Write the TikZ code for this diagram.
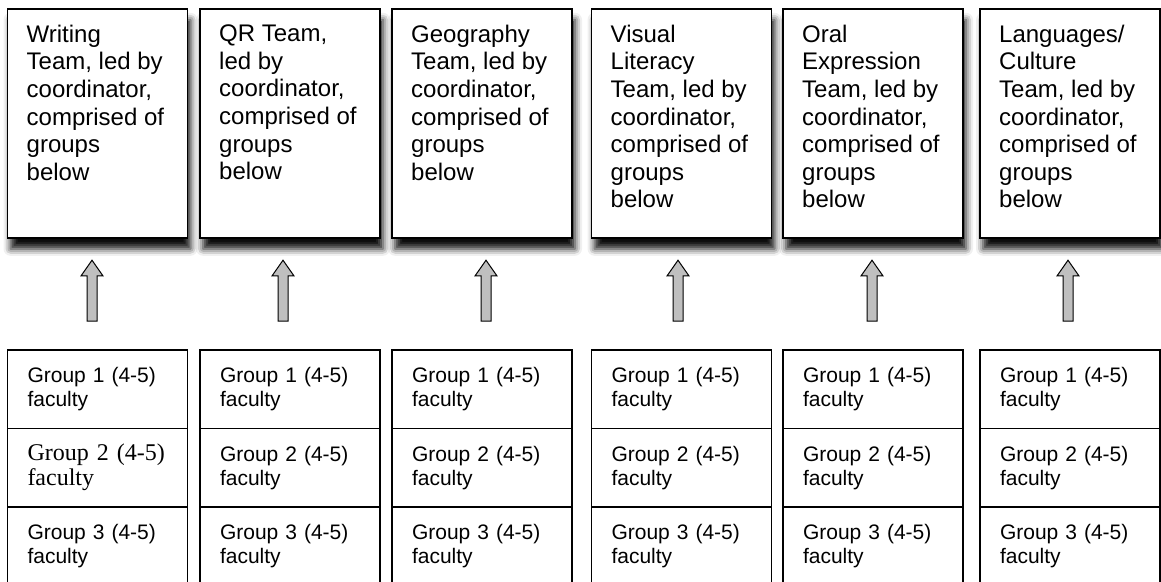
\documentclass[tikz,border=0pt]{standalone}
\usepackage{fontspec}
\setmainfont{Liberation Sans}
\newfontfamily\timesfont{Liberation Serif}
\usepackage{xcolor}
\usepackage{tikz}
\usetikzlibrary{shapes,arrows,arrows.meta,positioning,shadows.blur}

\begin{document}
\begin{tikzpicture}[x=0.5pt, y=-0.5pt,
    team/.style={draw, line width=0.8pt, fill=white, rectangle, anchor=north, minimum width=90pt, minimum height=114.5pt, inner sep=0pt,
      blur shadow={shadow xshift=1.5pt, shadow yshift=-5.5pt, shadow blur radius=3.5pt, shadow opacity=95}},
    teamtxt/.style={align=left, inner sep=0pt, outer sep=0pt, font=\fontsize{12pt}{13.8pt}\selectfont},
    grp/.style={draw, line width=0.6pt, rectangle, outer sep=0pt, minimum width=90pt, minimum height=39.25pt, text width=70pt, align=left, font=\fontsize{10.5pt}{12pt}\selectfont},
    uparrow/.style={draw, line width=0.5pt, fill=gray!50, single arrow, rotate=90, inner sep=2.25pt, minimum height=30.5pt, single arrow head extend=3pt, single arrow tip angle=70}
  ]
    \useasboundingbox (0,0) rectangle (1161,582);
    % teams
    \node[team] (writing) at (97.5,8) {};
    \node[team] (qr) at (290,8) {};
    \node[team] (geo) at (482,8) {};
    \node[team] (visual) at (681.5,8) {};
    \node[team] (oral) at (873,8) {};
    \node[team] (lang) at (1070,8) {};
    \node[teamtxt, below right=8.5pt and 10pt of writing.north west] (writingtxt) {Writing\\Team, led by\\coordinator,\\comprised of\\groups\\below};
    \node[teamtxt, below right=8.5pt and 10pt of qr.north west] (qrtxt) {QR Team,\\led by\\coordinator,\\comprised of\\groups\\below};
    \node[teamtxt, below right=8.5pt and 10pt of geo.north west] (geotxt) {Geography\\Team, led by\\coordinator,\\comprised of\\groups\\below};
    \node[teamtxt, below right=8.5pt and 10pt of visual.north west] (visualtxt) {Visual\\Literacy\\Team, led by\\coordinator,\\comprised of\\groups\\below};
    \node[teamtxt, below right=8.5pt and 10pt of oral.north west] (oraltxt) {Oral\\Expression\\Team, led by\\coordinator,\\comprised of\\groups\\below};
    \node[teamtxt, below right=8.5pt and 10pt of lang.north west] (langtxt) {Languages/\\Culture\\Team, led by\\coordinator,\\comprised of\\groups\\below};
    % groups
    \node[grp, anchor=north] (writing1) at (97.5,350) {Group 1 (4-5)\\faculty};
    \node[grp, below=0pt of writing1, font=\timesfont\fontsize{12pt}{12.5pt}\selectfont] (writing2) {Group 2 (4-5)\\faculty};
    \node[grp, below=0pt of writing2] (writing3) {Group 3 (4-5)\\faculty};
    \node[grp, anchor=north] (qr1) at (290,350) {Group 1 (4-5)\\faculty};
    \node[grp, below=0pt of qr1] (qr2) {Group 2 (4-5)\\faculty};
    \node[grp, below=0pt of qr2] (qr3) {Group 3 (4-5)\\faculty};
    \node[grp, anchor=north] (geo1) at (482,350) {Group 1 (4-5)\\faculty};
    \node[grp, below=0pt of geo1] (geo2) {Group 2 (4-5)\\faculty};
    \node[grp, below=0pt of geo2] (geo3) {Group 3 (4-5)\\faculty};
    \node[grp, anchor=north] (visual1) at (681.5,350) {Group 1 (4-5)\\faculty};
    \node[grp, below=0pt of visual1] (visual2) {Group 2 (4-5)\\faculty};
    \node[grp, below=0pt of visual2] (visual3) {Group 3 (4-5)\\faculty};
    \node[grp, anchor=north] (oral1) at (873,350) {Group 1 (4-5)\\faculty};
    \node[grp, below=0pt of oral1] (oral2) {Group 2 (4-5)\\faculty};
    \node[grp, below=0pt of oral2] (oral3) {Group 3 (4-5)\\faculty};
    \node[grp, anchor=north] (lang1) at (1070,350) {Group 1 (4-5)\\faculty};
    \node[grp, below=0pt of lang1] (lang2) {Group 2 (4-5)\\faculty};
    \node[grp, below=0pt of lang2] (lang3) {Group 3 (4-5)\\faculty};
    % arrows
    \path (writing1.north) -- node[xshift=-2.75pt, uparrow] (writingup) {} (writing.south);
    \path (qr1.north) -- node[xshift=-3.5pt, uparrow] (qrup) {} (qr.south);
    \path (geo1.north) -- node[xshift=2pt, uparrow] (geoup) {} (geo.south);
    \path (visual1.north) -- node[xshift=-1.75pt, uparrow] (visualup) {} (visual.south);
    \path (oral1.north) -- node[xshift=-0.5pt, uparrow] (oralup) {} (oral.south);
    \path (lang1.north) -- node[xshift=-1pt, uparrow] (langup) {} (lang.south);
  \end{tikzpicture}
\end{document}
